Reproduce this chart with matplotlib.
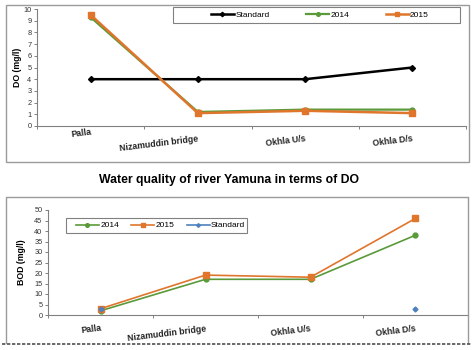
import matplotlib
matplotlib.use("Agg")
import matplotlib.pyplot as plt
import numpy as np
from matplotlib.patches import Rectangle
from matplotlib.lines import Line2D

plt.rcParams["font.family"] = ["Liberation Sans", "DejaVu Sans"]

categories = ["Palla", "Nizamuddin bridge", "Okhla U/s", "Okhla D/s"]
do_standard = [4, 4, 4, 5]
do_2014 = [9.3, 1.2, 1.4, 1.4]
do_2015 = [9.5, 1.1, 1.3, 1.1]
bod_2014 = [2, 17, 17, 38]
bod_2015 = [3, 19, 18, 46]
bod_standard = [3, np.nan, np.nan, 3]

GREEN = "#5a9a3a"
ORANGE = "#e0752c"
BLUE = "#4f81bd"
GRAY = "#808080"
FRAME = "#9a9a9a"

fig = plt.figure(figsize=(4.74, 3.5), dpi=100)
W, H = 474, 350


def fx(px):
    return px / W


def fy(py):
    return 1 - py / H


def rect(x0, y0, x1, y1):
    return ((fx(x0), fy(y1)), (x1 - x0) / W, (y1 - y0) / H)


# outer frames
xy, w, h = rect(6, 5, 469, 162)
fig.patches.append(Rectangle(xy, w, h, transform=fig.transFigure, fill=False,
                             edgecolor=FRAME, linewidth=1.0))
fig.lines.append(Line2D([fx(6), fx(6), fx(468), fx(468)], [fy(343), fy(197), fy(197), fy(343)],
                        transform=fig.transFigure, color=FRAME, linewidth=1.0))
fig.lines.append(Line2D([fx(2), fx(472)], [fy(344), fy(344)], transform=fig.transFigure,
                        color="#505050", linewidth=1.2, linestyle=(0, (2, 1))))

x = np.arange(len(categories))


def style_axes(ax, ymax, ystep, offsets):
    ax.set_xlim(-0.5, len(categories) - 0.5)
    ax.set_ylim(0, ymax)
    ax.set_yticks(np.arange(0, ymax + 0.01, ystep))
    ax.set_xticks(np.arange(-0.5, len(categories) + 0.5, 1))
    ax.set_xticklabels([])
    ax.tick_params(axis="y", labelsize=5.3, length=2.5, width=0.7, color=GRAY, pad=1.5,
                   labelcolor="#333333")
    ax.tick_params(axis="x", length=2.5, width=0.7, color=GRAY)
    for s in ["top", "right"]:
        ax.spines[s].set_visible(False)
    for s in ["left", "bottom"]:
        ax.spines[s].set_color(GRAY)
        ax.spines[s].set_linewidth(0.8)
    for i, c in enumerate(categories):
        ax.annotate(c, xy=(i, 0), xycoords=("data", "axes fraction"), xytext=(0, offsets[i]),
                    textcoords="offset points", ha="right", va="top", rotation=7,
                    rotation_mode="anchor", fontsize=6.3, fontweight="bold", color="#222222")


def legend_box(ax, x0, y0, x1, y1):
    xy, w, h = rect(x0, y0, x1, y1)
    ax.add_patch(Rectangle(xy, w, h, transform=fig.transFigure, facecolor="white",
                           edgecolor=GRAY, linewidth=0.8, zorder=4, clip_on=False))


# top chart
ax1 = fig.add_axes([fx(37), fy(126), fx(466 - 37), (126 - 9) / H])
ax1.plot(x, do_standard, color="black", linewidth=1.8, marker="D", markersize=3, label="Standard")
ax1.plot(x, do_2014, color=GREEN, linewidth=1.6, marker="o", markersize=3.5, label="2014")
ax1.plot(x, do_2015, color=ORANGE, linewidth=1.8, marker="s", markersize=4, label="2015")
style_axes(ax1, 10, 1, [-1, -6, -6, -6])
ax1.set_ylabel("DO (mg/l)", fontsize=6.3, fontweight="bold", labelpad=1)
legend_box(ax1, 173, 7, 460, 23)
lg1 = ax1.legend(loc="center left", bbox_to_anchor=(fx(211), fy(15)), bbox_transform=fig.transFigure,
                 ncol=3, fontsize=6, frameon=False, handlelength=2.75, handletextpad=0.15,
                 columnspacing=4.4, borderpad=0, borderaxespad=0, markerscale=0.75)
lg1.set_zorder(6)

fig.text(fx(229), fy(180), "Water quality of river Yamuna in terms of DO", ha="center", va="center",
         fontsize=8.8, fontweight="bold")

# bottom chart
ax2 = fig.add_axes([fx(48), fy(315), fx(468 - 48), (315 - 210) / H])
ax2.plot(x, bod_2014, color=GREEN, linewidth=1.2, marker="o", markersize=3.5, label="2014")
ax2.plot(x, bod_2015, color=ORANGE, linewidth=1.2, marker="s", markersize=4, label="2015")
ax2.plot(x, bod_standard, color=BLUE, linewidth=1.2, marker="D", markersize=2.5, label="Standard")
style_axes(ax2, 50, 5, [-6.5, -6.5, -6.5, -6.5])
ax2.set_ylabel("BOD (mg/l)", fontsize=6.3, fontweight="bold", labelpad=6)
legend_box(ax2, 66, 218, 247, 233)
lg2 = ax2.legend(loc="center left", bbox_to_anchor=(fx(76), fy(225.5)), bbox_transform=fig.transFigure,
                 ncol=3, fontsize=6, frameon=False, handlelength=2.75, handletextpad=0.15,
                 columnspacing=1.5, borderpad=0, borderaxespad=0, markerscale=0.75)
lg2.set_zorder(6)

fig.savefig("out.png", dpi=100)
